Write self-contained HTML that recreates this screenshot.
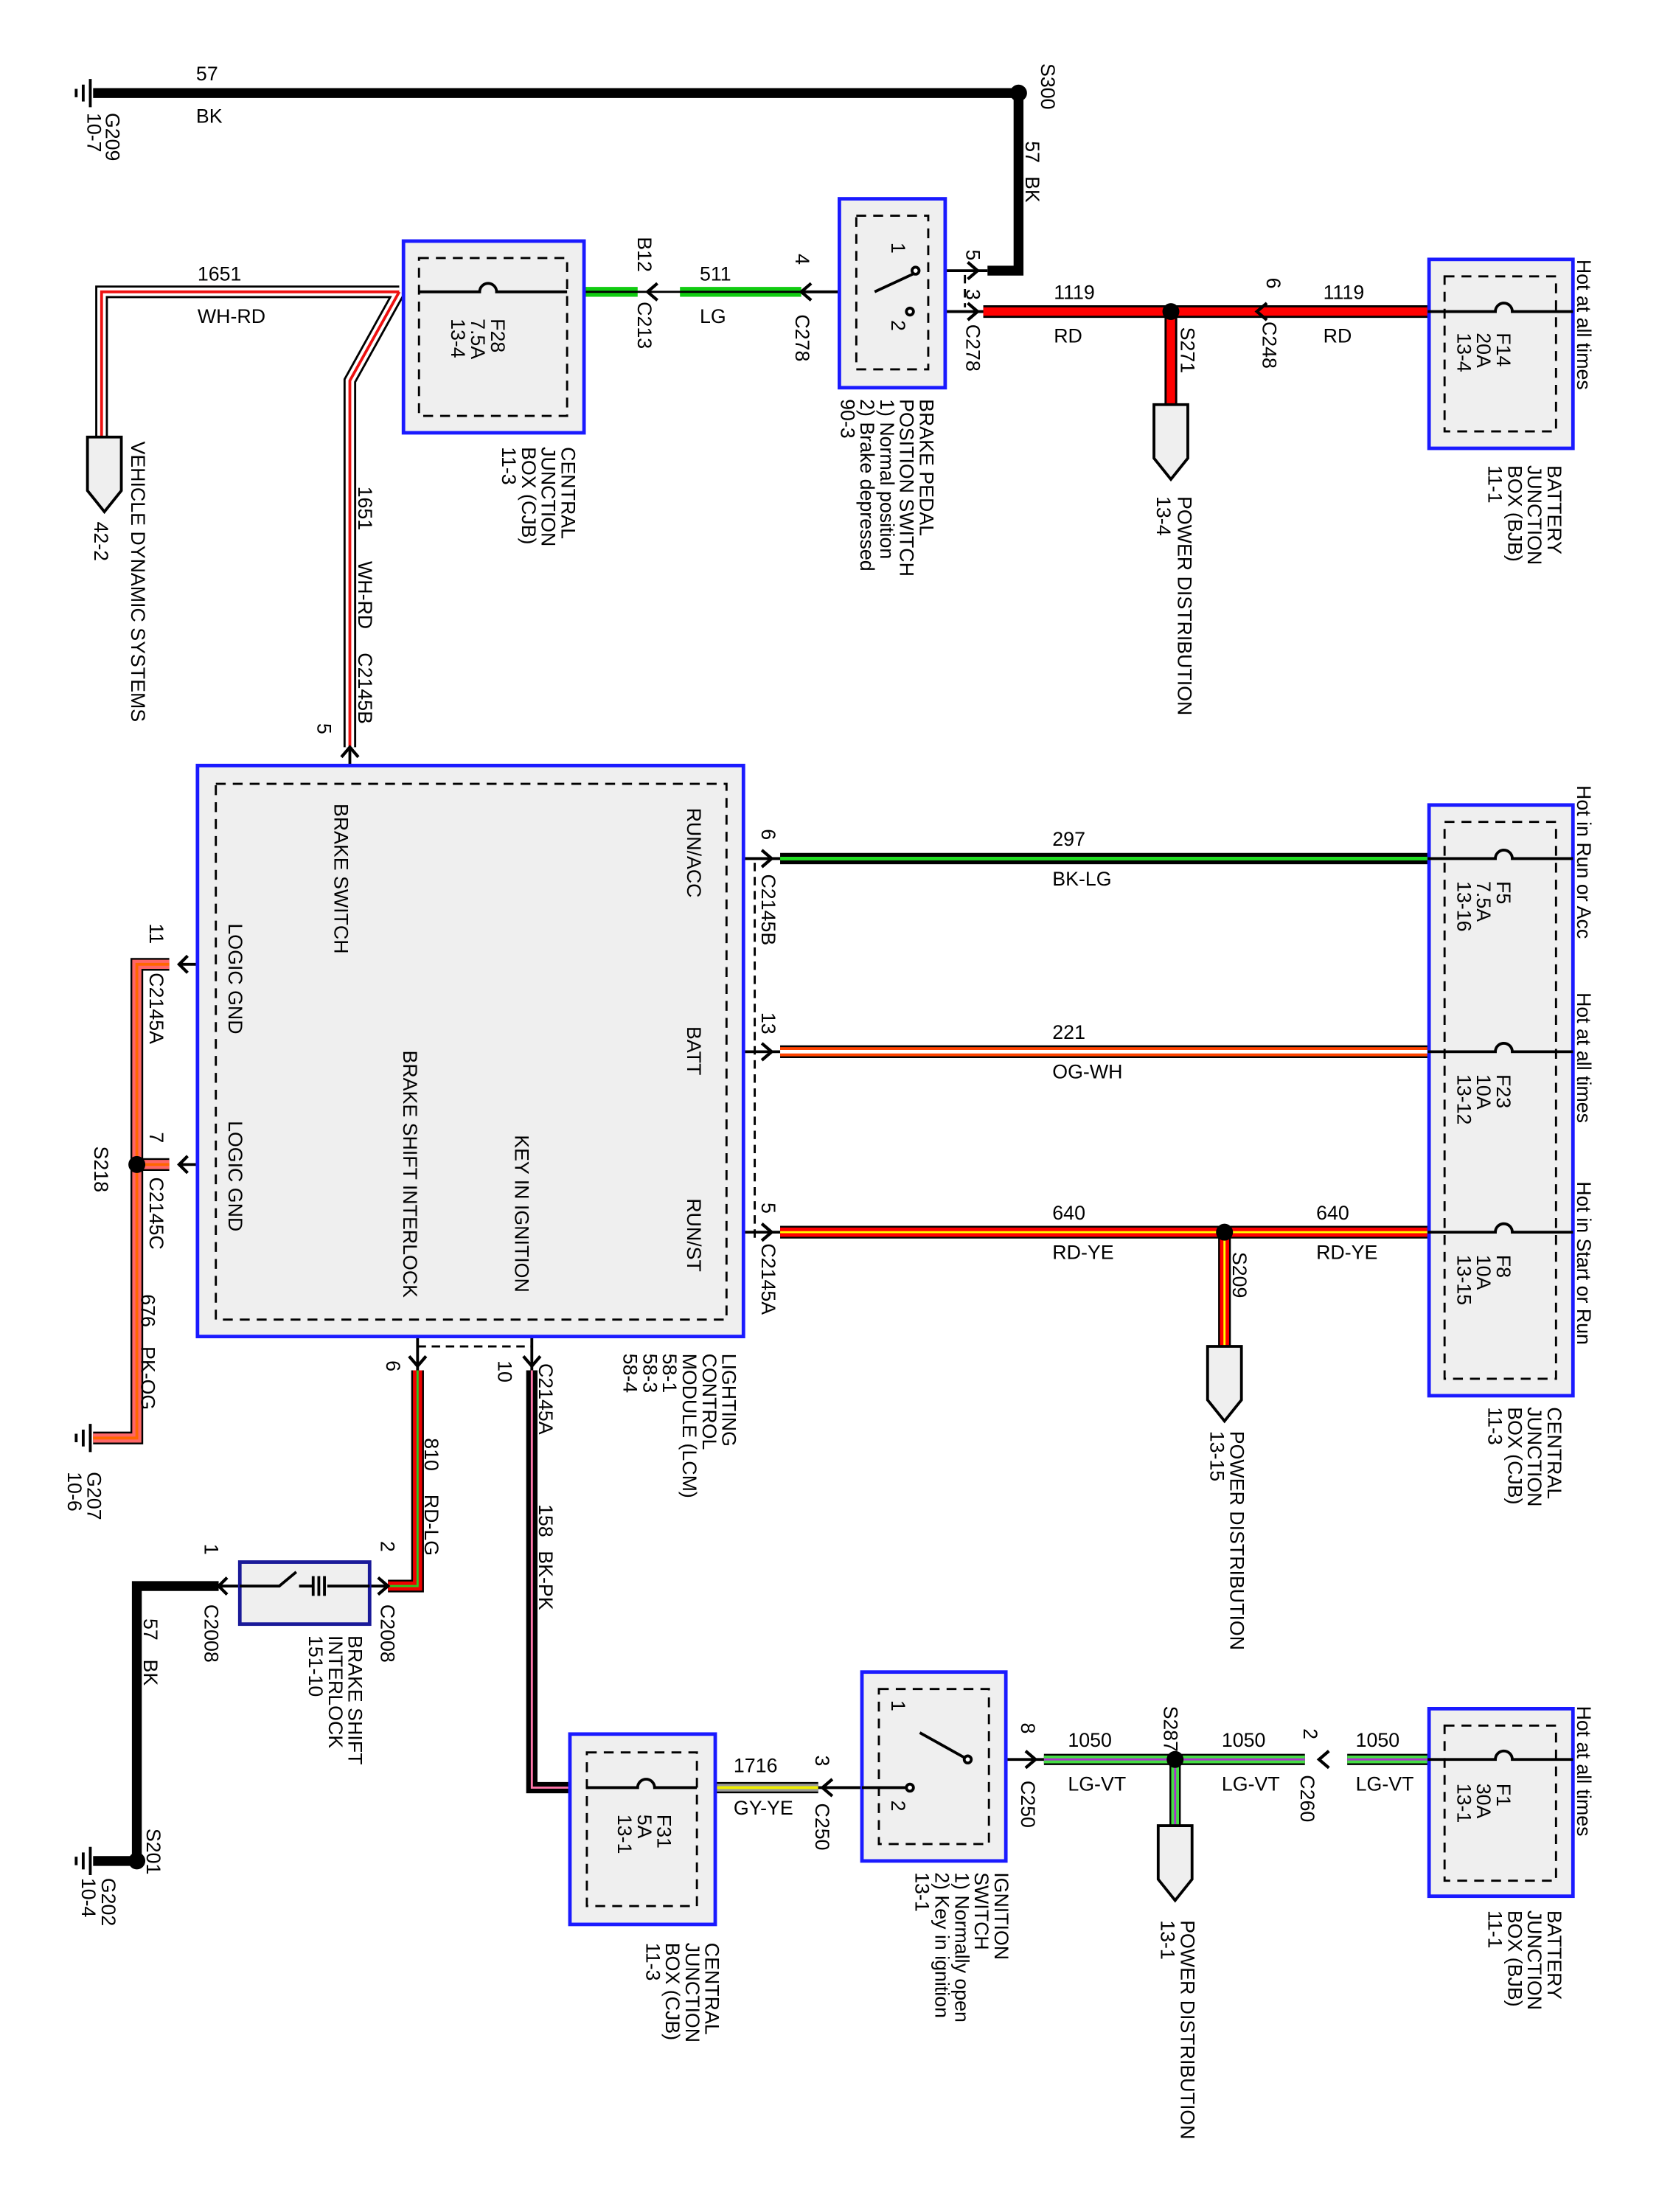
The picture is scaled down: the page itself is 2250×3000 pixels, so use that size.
<!DOCTYPE html>
<html><head><meta charset="utf-8"><style>
html,body{margin:0;padding:0;background:#fff}
svg{display:block}
text{font-family:"Liberation Sans",Arial,sans-serif;font-size:14px;fill:#000}
</style></head><body>
<svg width="2250" height="3000" viewBox="0 0 1176 1569" preserveAspectRatio="none" xmlns="http://www.w3.org/2000/svg">
<rect width="1176" height="1569" fill="#fff"/>
<g fill="none" stroke-linecap="butt" stroke-linejoin="miter">
<path d="M66 66 H722 V192 H700" stroke="#000" stroke-width="7"/>
<path d="M697 221 H1012" stroke="#000" stroke-width="9"/><path d="M697 221 H1012" stroke="#f00" stroke-width="6"/>
<path d="M830 221 V287" stroke="#000" stroke-width="9"/><path d="M830 221 V287" stroke="#f00" stroke-width="6"/>
<path d="M415 207 H452 M482 207 H568" stroke="#1c1" stroke-width="7"/>
<path d="M402 207 H568" stroke="#000" stroke-width="1.5"/>
<path d="M283 207 H72 V310 M283 207 L248 270 V530" stroke="#000" stroke-width="9"/>
<path d="M283 207 H72 V310 M283 207 L248 270 V530" stroke="#fff" stroke-width="6"/>
<path d="M283 207 H72 V310 M283 207 L248 270 V530" stroke="#e11" stroke-width="2"/>
<path d="M553 609 H1012" stroke="#000" stroke-width="8"/><path d="M553 609 H1012" stroke="#2d2" stroke-width="2.5"/>
<path d="M553 746 H1012" stroke="#000" stroke-width="9"/><path d="M553 746 H1012" stroke="#f40" stroke-width="6.5"/><path d="M553 746 H1012" stroke="#fff" stroke-width="2.5"/>
<path d="M553 874 H1012 M868 874 V955" stroke="#000" stroke-width="9"/><path d="M553 874 H1012 M868 874 V955" stroke="#f00" stroke-width="6.5"/><path d="M553 874 H1012 M868 874 V955" stroke="#ff0" stroke-width="1.5"/>
<path d="M120 684 H97 V1020 H66 M120 826 H97" stroke="#000" stroke-width="9"/><path d="M120 684 H97 V1020 H66 M120 826 H97" stroke="#f66" stroke-width="6.5"/><path d="M120 684 H97 V1020 H66 M120 826 H97" stroke="#f60" stroke-width="2"/>
<path d="M296 972 V1125 H275" stroke="#000" stroke-width="9"/><path d="M296 972 V1125 H275" stroke="#e00" stroke-width="6.5"/><path d="M296 972 V1125 H275" stroke="#2c2" stroke-width="1.5"/>
<path d="M155 1125 H97 V1320 H66" stroke="#000" stroke-width="7"/>
<path d="M377 972 V1268 H404" stroke="#000" stroke-width="8"/><path d="M377 972 V1268 H404" stroke="#f7a" stroke-width="1.5"/>
<path d="M507 1268 H580" stroke="#000" stroke-width="8"/><path d="M507 1268 H580" stroke="#999" stroke-width="5.5"/><path d="M507 1268 H580" stroke="#ee0" stroke-width="2"/>
<path d="M740 1248 H925 M955 1248 H1012 M833 1248 V1295" stroke="#000" stroke-width="8"/><path d="M740 1248 H925 M955 1248 H1012 M833 1248 V1295" stroke="#4d4" stroke-width="5.5"/><path d="M740 1248 H925 M955 1248 H1012 M833 1248 V1295" stroke="#a3c" stroke-width="1.5"/>
<g stroke="#000" stroke-width="2">
<path d="M527 609 H553 M527 746 H553 M527 874 H553"/>
<path d="M127 684 H155 M127 826 H155"/>
<path d="M296 948 V972 M377 948 V972"/>
<path d="M248 530 V543"/>
<path d="M262 1125 H275 M155 1125 H170"/>
<path d="M713 1248 H740 M580 1268 H611"/>
<path d="M640 192 H700 M640 221 H697"/>
<path d="M568 207 H620"/>
<path d="M1012 221 H1115 M1012 609 H1115 M1012 746 H1115 M1012 874 H1115 M1012 1248 H1115"/>
<path d="M402 207 H414 M286 207 H297"/>
<path d="M507 1268 H494 M404 1268 H416"/>
</g>
<g stroke="#000" stroke-width="1.5" stroke-dasharray="6 4">
<path d="M535 612 V880"/><path d="M296 955 H377"/><path d="M684 195 V218"/>
</g>
<g stroke="#1a1aff" stroke-width="2.5" fill="#efefef">
<rect x="595" y="141" width="75" height="134"/>
<rect x="1013" y="184" width="102" height="134"/>
<rect x="286" y="171" width="128" height="136"/>
<rect x="140" y="543" width="387" height="405"/>
<rect x="1013" y="571" width="102" height="419"/>
<rect x="170" y="1108" width="92" height="44" stroke="#1a1a99"/>
<rect x="404" y="1230" width="103" height="135"/>
<rect x="611" y="1186" width="102" height="134"/>
<rect x="1013" y="1212" width="102" height="133"/>
</g>
<g stroke="#000" stroke-width="1.5" stroke-dasharray="7 5" fill="none">
<rect x="607" y="153" width="51" height="109"/>
<rect x="1024" y="196" width="79" height="110"/>
<rect x="297" y="183" width="105" height="112"/>
<rect x="153" y="556" width="362" height="380"/>
<rect x="1024" y="583" width="79" height="395"/>
<rect x="416" y="1243" width="78" height="109"/>
<rect x="623" y="1198" width="78" height="110"/>
<rect x="1024" y="1224" width="79" height="110"/>
</g>
<g stroke="#000" stroke-width="2" fill="none">
<path d="M1012 221 H1060 a6 6 0 0 1 12 0 H1115"/>
<path d="M1012 609 H1060 a6 6 0 0 1 12 0 H1115"/>
<path d="M1012 746 H1060 a6 6 0 0 1 12 0 H1115"/>
<path d="M1012 874 H1060 a6 6 0 0 1 12 0 H1115"/>
<path d="M1012 1248 H1060 a6 6 0 0 1 12 0 H1115"/>
<path d="M297 207 H340 a6 6 0 0 1 12 0 H402"/>
<path d="M416 1268 H452 a6 6 0 0 1 12 0 H494"/>
</g>
<g stroke="#000" stroke-width="2" fill="#fff">
<path d="M620 207 L648 194" /><circle cx="649" cy="192" r="2.5"/><circle cx="645" cy="221" r="2.5"/>
<path d="M686 1248 L652 1229" /><circle cx="686" cy="1248" r="2.5"/><circle cx="645" cy="1268" r="2.5"/>
<path d="M611 1268 H642"/>
<path d="M170 1125 H198 L210 1115 M222 1118 V1132 M226 1118 V1132 M230 1118 V1132 M212 1125 H222 M232 1125 H262" fill="none"/>
</g>
<g stroke="#000" stroke-width="2.2" fill="none">
<path d="M686 186 L693 192 L686 198 M686 215 L693 221 L686 227"/>
<path d="M575 201 L568 207 L575 213"/>
<path d="M466 201 L459 207 L466 213"/>
<path d="M898 215 L891 221 L898 227"/>
<path d="M242 537 L248 530 L254 537"/>
<path d="M540 603 L547 609 L540 615 M540 740 L547 746 L540 752 M540 868 L547 874 L540 880"/>
<path d="M133 678 L127 684 L133 690 M133 820 L127 826 L133 832"/>
<path d="M290 962 L296 969 L302 962 M371 962 L377 969 L383 962"/>
<path d="M268 1119 L275 1125 L268 1131 M161 1119 L155 1125 L161 1131"/>
<path d="M590 1262 L583 1268 L590 1274"/>
<path d="M727 1242 L734 1248 L727 1254"/>
<path d="M942 1242 L935 1248 L942 1254"/>
</g>
<g fill="#000"><circle cx="722" cy="66" r="6"/><circle cx="830" cy="221" r="6"/><circle cx="868" cy="874" r="6"/><circle cx="97" cy="826" r="6"/><circle cx="97" cy="1320" r="6"/><circle cx="833" cy="1248" r="6"/></g>
<g stroke="#000" stroke-width="2" fill="#efefef">
<path d="M818 287 H842 V325 L830 340 L818 325 Z"/>
<path d="M856 955 H880 V993 L868 1008 L856 993 Z"/>
<path d="M821 1295 H845 V1333 L833 1348 L821 1333 Z"/>
<path d="M62 310 H86 V348 L74 363 L62 348 Z"/>
</g>
<g stroke="#000" stroke-width="2">
<path d="M64 56 V76 M59 60 V72 M54 63 V69"/>
<path d="M64 1010 V1030 M59 1014 V1026 M54 1017 V1023"/>
<path d="M64 1310 V1330 M59 1314 V1326 M54 1317 V1323"/>
</g>
</g>
<g>
<text x="139" y="57">57</text><text x="139" y="87">BK</text>
<text x="140" y="199">1651</text><text x="140" y="229">WH-RD</text>
<text x="496" y="199">511</text><text x="496" y="229">LG</text>
<text x="747" y="212">1119</text><text x="747" y="243">RD</text>
<text x="938" y="212">1119</text><text x="938" y="243">RD</text>
<text x="746" y="600">297</text><text x="746" y="628">BK-LG</text>
<text x="746" y="737">221</text><text x="746" y="765">OG-WH</text>
<text x="746" y="865">640</text><text x="746" y="893">RD-YE</text>
<text x="933" y="865">640</text><text x="933" y="893">RD-YE</text>
<text x="520" y="1257">1716</text><text x="520" y="1287">GY-YE</text>
<text x="757" y="1239">1050</text><text x="757" y="1270">LG-VT</text>
<text x="866" y="1239">1050</text><text x="866" y="1270">LG-VT</text>
<text x="961" y="1239">1050</text><text x="961" y="1270">LG-VT</text>
</g>
<g>
<text transform="translate(75,80) rotate(90)">G209</text><text transform="translate(62,80) rotate(90)">10-7</text>
<text transform="translate(738,45) rotate(90)">S300</text>
<text transform="translate(727,100) rotate(90)">57</text><text transform="translate(727,125) rotate(90)">BK</text>
<text transform="translate(452,168) rotate(90)">B12</text><text transform="translate(452,214) rotate(90)">C213</text>
<text transform="translate(564,180) rotate(90)">4</text><text transform="translate(564,223) rotate(90)">C278</text>
<text transform="translate(685,177) rotate(90)">5</text><text transform="translate(685,205) rotate(90)">3</text><text transform="translate(685,230) rotate(90)">C278</text>
<text transform="translate(632,172) rotate(90)">1</text><text transform="translate(632,227) rotate(90)">2</text>
<text transform="translate(898,197) rotate(90)">6</text><text transform="translate(895,228) rotate(90)">C248</text>
<text transform="translate(837,232) rotate(90)">S271</text>
<text transform="translate(835,352) rotate(90)">POWER DISTRIBUTION</text><text transform="translate(820,352) rotate(90)">13-4</text>
<text transform="translate(1118,184) rotate(90)">Hot at all times</text>
<text transform="translate(1061,236) rotate(90)">F14</text><text transform="translate(1047,236) rotate(90)">20A</text><text transform="translate(1033,236) rotate(90)">13-4</text>
<text transform="translate(1097,330) rotate(90)">BATTERY</text><text transform="translate(1083,330) rotate(90)">JUNCTION</text><text transform="translate(1069,330) rotate(90)">BOX (BJB)</text><text transform="translate(1055,330) rotate(90)">11-1</text>
<text transform="translate(652,283) rotate(90)">BRAKE PEDAL</text><text transform="translate(638,283) rotate(90)">POSITION SWITCH</text><text transform="translate(624,283) rotate(90)">1) Normal position</text><text transform="translate(610,283) rotate(90)">2) Brake depressed</text><text transform="translate(596,283) rotate(90)">90-3</text>
<text transform="translate(348,226) rotate(90)">F28</text><text transform="translate(334,226) rotate(90)">7.5A</text><text transform="translate(320,226) rotate(90)">13-4</text>
<text transform="translate(398,317) rotate(90)">CENTRAL</text><text transform="translate(384,317) rotate(90)">JUNCTION</text><text transform="translate(370,317) rotate(90)">BOX (CJB)</text><text transform="translate(356,317) rotate(90)">11-3</text>
<text transform="translate(93,313) rotate(90)">VEHICLE DYNAMIC SYSTEMS</text><text transform="translate(67,370) rotate(90)">42-2</text>
<text transform="translate(254,345) rotate(90)">1651</text><text transform="translate(254,398) rotate(90)">WH-RD</text><text transform="translate(254,463) rotate(90)">C2145B</text>
<text transform="translate(225,513) rotate(90)">5</text>
<text transform="translate(487,573) rotate(90)">RUN/ACC</text><text transform="translate(487,728) rotate(90)">BATT</text><text transform="translate(487,850) rotate(90)">RUN/ST</text>
<text transform="translate(365,805) rotate(90)">KEY IN IGNITION</text>
<text transform="translate(286,745) rotate(90)">BRAKE SHIFT INTERLOCK</text>
<text transform="translate(237,570) rotate(90)">BRAKE SWITCH</text>
<text transform="translate(162,655) rotate(90)">LOGIC GND</text><text transform="translate(162,795) rotate(90)">LOGIC GND</text>
<text transform="translate(540,588) rotate(90)">6</text><text transform="translate(540,620) rotate(90)">C2145B</text>
<text transform="translate(540,718) rotate(90)">13</text>
<text transform="translate(540,853) rotate(90)">5</text><text transform="translate(540,882) rotate(90)">C2145A</text>
<text transform="translate(512,960) rotate(90)">LIGHTING</text><text transform="translate(498,960) rotate(90)">CONTROL</text><text transform="translate(484,960) rotate(90)">MODULE (LCM)</text><text transform="translate(470,960) rotate(90)">58-1</text><text transform="translate(456,960) rotate(90)">58-3</text><text transform="translate(442,960) rotate(90)">58-4</text>
<text transform="translate(874,888) rotate(90)">S209</text>
<text transform="translate(872,1015) rotate(90)">POWER DISTRIBUTION</text><text transform="translate(858,1015) rotate(90)">13-15</text>
<text transform="translate(1118,557) rotate(90)">Hot in Run or Acc</text>
<text transform="translate(1118,704) rotate(90)">Hot at all times</text>
<text transform="translate(1118,838) rotate(90)">Hot in Start or Run</text>
<text transform="translate(1061,625) rotate(90)">F5</text><text transform="translate(1047,625) rotate(90)">7.5A</text><text transform="translate(1033,625) rotate(90)">13-16</text>
<text transform="translate(1061,762) rotate(90)">F23</text><text transform="translate(1047,762) rotate(90)">10A</text><text transform="translate(1033,762) rotate(90)">13-12</text>
<text transform="translate(1061,890) rotate(90)">F8</text><text transform="translate(1047,890) rotate(90)">10A</text><text transform="translate(1033,890) rotate(90)">13-15</text>
<text transform="translate(1097,998) rotate(90)">CENTRAL</text><text transform="translate(1083,998) rotate(90)">JUNCTION</text><text transform="translate(1069,998) rotate(90)">BOX (CJB)</text><text transform="translate(1055,998) rotate(90)">11-3</text>
<text transform="translate(106,655) rotate(90)">11</text><text transform="translate(106,690) rotate(90)">C2145A</text>
<text transform="translate(106,803) rotate(90)">7</text><text transform="translate(106,835) rotate(90)">C2145C</text>
<text transform="translate(67,813) rotate(90)">S218</text>
<text transform="translate(100,918) rotate(90)">676</text><text transform="translate(100,955) rotate(90)">PK-OG</text>
<text transform="translate(62,1044) rotate(90)">G207</text><text transform="translate(48,1044) rotate(90)">10-6</text>
<text transform="translate(274,965) rotate(90)">6</text>
<text transform="translate(301,1020) rotate(90)">810</text><text transform="translate(301,1060) rotate(90)">RD-LG</text>
<text transform="translate(353,965) rotate(90)">10</text><text transform="translate(382,967) rotate(90)">C2145A</text>
<text transform="translate(382,1067) rotate(90)">158</text><text transform="translate(382,1100) rotate(90)">BK-PK</text>
<text transform="translate(270,1093) rotate(90)">2</text><text transform="translate(270,1138) rotate(90)">C2008</text>
<text transform="translate(145,1095) rotate(90)">1</text><text transform="translate(145,1138) rotate(90)">C2008</text>
<text transform="translate(247,1160) rotate(90)">BRAKE SHIFT</text><text transform="translate(233,1160) rotate(90)">INTERLOCK</text><text transform="translate(219,1160) rotate(90)">151-10</text>
<text transform="translate(102,1148) rotate(90)">57</text><text transform="translate(102,1177) rotate(90)">BK</text>
<text transform="translate(104,1297) rotate(90)">S201</text>
<text transform="translate(72,1332) rotate(90)">G202</text><text transform="translate(58,1332) rotate(90)">10-4</text>
<text transform="translate(466,1287) rotate(90)">F31</text><text transform="translate(452,1287) rotate(90)">5A</text><text transform="translate(438,1287) rotate(90)">13-1</text>
<text transform="translate(500,1378) rotate(90)">CENTRAL</text><text transform="translate(486,1378) rotate(90)">JUNCTION</text><text transform="translate(472,1378) rotate(90)">BOX (CJB)</text><text transform="translate(458,1378) rotate(90)">11-3</text>
<text transform="translate(578,1245) rotate(90)">3</text><text transform="translate(578,1279) rotate(90)">C250</text>
<text transform="translate(632,1206) rotate(90)">1</text><text transform="translate(632,1277) rotate(90)">2</text>
<text transform="translate(705,1328) rotate(90)">IGNITION</text><text transform="translate(691,1328) rotate(90)">SWITCH</text><text transform="translate(677,1328) rotate(90)">1) Normally open</text><text transform="translate(663,1328) rotate(90)">2) Key in ignition</text><text transform="translate(649,1328) rotate(90)">13-1</text>
<text transform="translate(724,1222) rotate(90)">8</text><text transform="translate(724,1263) rotate(90)">C250</text>
<text transform="translate(825,1210) rotate(90)">S287</text>
<text transform="translate(924,1226) rotate(90)">2</text><text transform="translate(922,1259) rotate(90)">C260</text>
<text transform="translate(837,1362) rotate(90)">POWER DISTRIBUTION</text><text transform="translate(823,1362) rotate(90)">13-1</text>
<text transform="translate(1118,1210) rotate(90)">Hot at all times</text>
<text transform="translate(1061,1265) rotate(90)">F1</text><text transform="translate(1047,1265) rotate(90)">30A</text><text transform="translate(1033,1265) rotate(90)">13-1</text>
<text transform="translate(1097,1355) rotate(90)">BATTERY</text><text transform="translate(1083,1355) rotate(90)">JUNCTION</text><text transform="translate(1069,1355) rotate(90)">BOX (BJB)</text><text transform="translate(1055,1355) rotate(90)">11-1</text>
</g>
</svg>
</body></html>
